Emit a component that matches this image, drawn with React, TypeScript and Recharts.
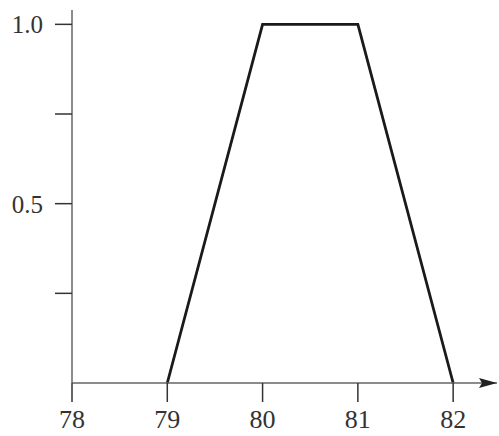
import { Line, LineChart, XAxis, YAxis } from "recharts";

// trapezoid membership function
const xValues = [79, 80, 81, 82];
const membership = [0, 1, 1, 0];

const xTicks = [78, 79, 80, 81, 82];
const yTicks = [0.25, 0.5, 0.75, 1.0];
const yLabels = [0.5, 1.0];

const data = xValues.map((x, i) => ({ x, mu: membership[i] }));

const axisColor = "#666";
const textColor = "#333";
const font = "Liberation Serif, Times New Roman, serif";

export default function App() {
  return (
    <div style={{ position: "absolute", left: 0, top: 0, background: "#fff" }}>
      <LineChart width={499} height={436} data={data} margin={{ top: 10, right: 2, left: 0, bottom: 0 }}>
        <defs>
          <marker
            id="arrow"
            viewBox="0 0 18 10"
            refX="18"
            refY="5"
            markerWidth="18"
            markerHeight="10"
            markerUnits="userSpaceOnUse"
            orient="auto"
          >
            <path d="M0,0 L18,5 L0,10 L3,5 Z" fill="#222" />
          </marker>
        </defs>
        <XAxis
          dataKey="x"
          type="number"
          domain={[78, 82.46]}
          ticks={xTicks}
          height={53}
          tickSize={19}
          tickMargin={8}
          axisLine={{ stroke: axisColor, strokeWidth: 1.5, markerEnd: "url(#arrow)" }}
          tickLine={{ stroke: "#333", strokeWidth: 1.5 }}
          tick={{ fontSize: 26, fill: textColor, fontFamily: font }}
          interval={0}
        />
        <YAxis
          type="number"
          domain={[0, 1.04]}
          ticks={yTicks}
          width={72}
          tickSize={17}
          tickMargin={12}
          axisLine={{ stroke: axisColor, strokeWidth: 1.5 }}
          tickLine={{ stroke: "#333", strokeWidth: 1.5 }}
          tick={{ fontSize: 25, fill: textColor, fontFamily: font }}
          tickFormatter={(v: number) => (yLabels.includes(v) ? v.toFixed(1) : "")}
          interval={0}
        />
        <Line
          type="linear"
          dataKey="mu"
          stroke="#1a1a1a"
          strokeWidth={2.8}
          dot={false}
          isAnimationActive={false}
        />
      </LineChart>
    </div>
  );
}
